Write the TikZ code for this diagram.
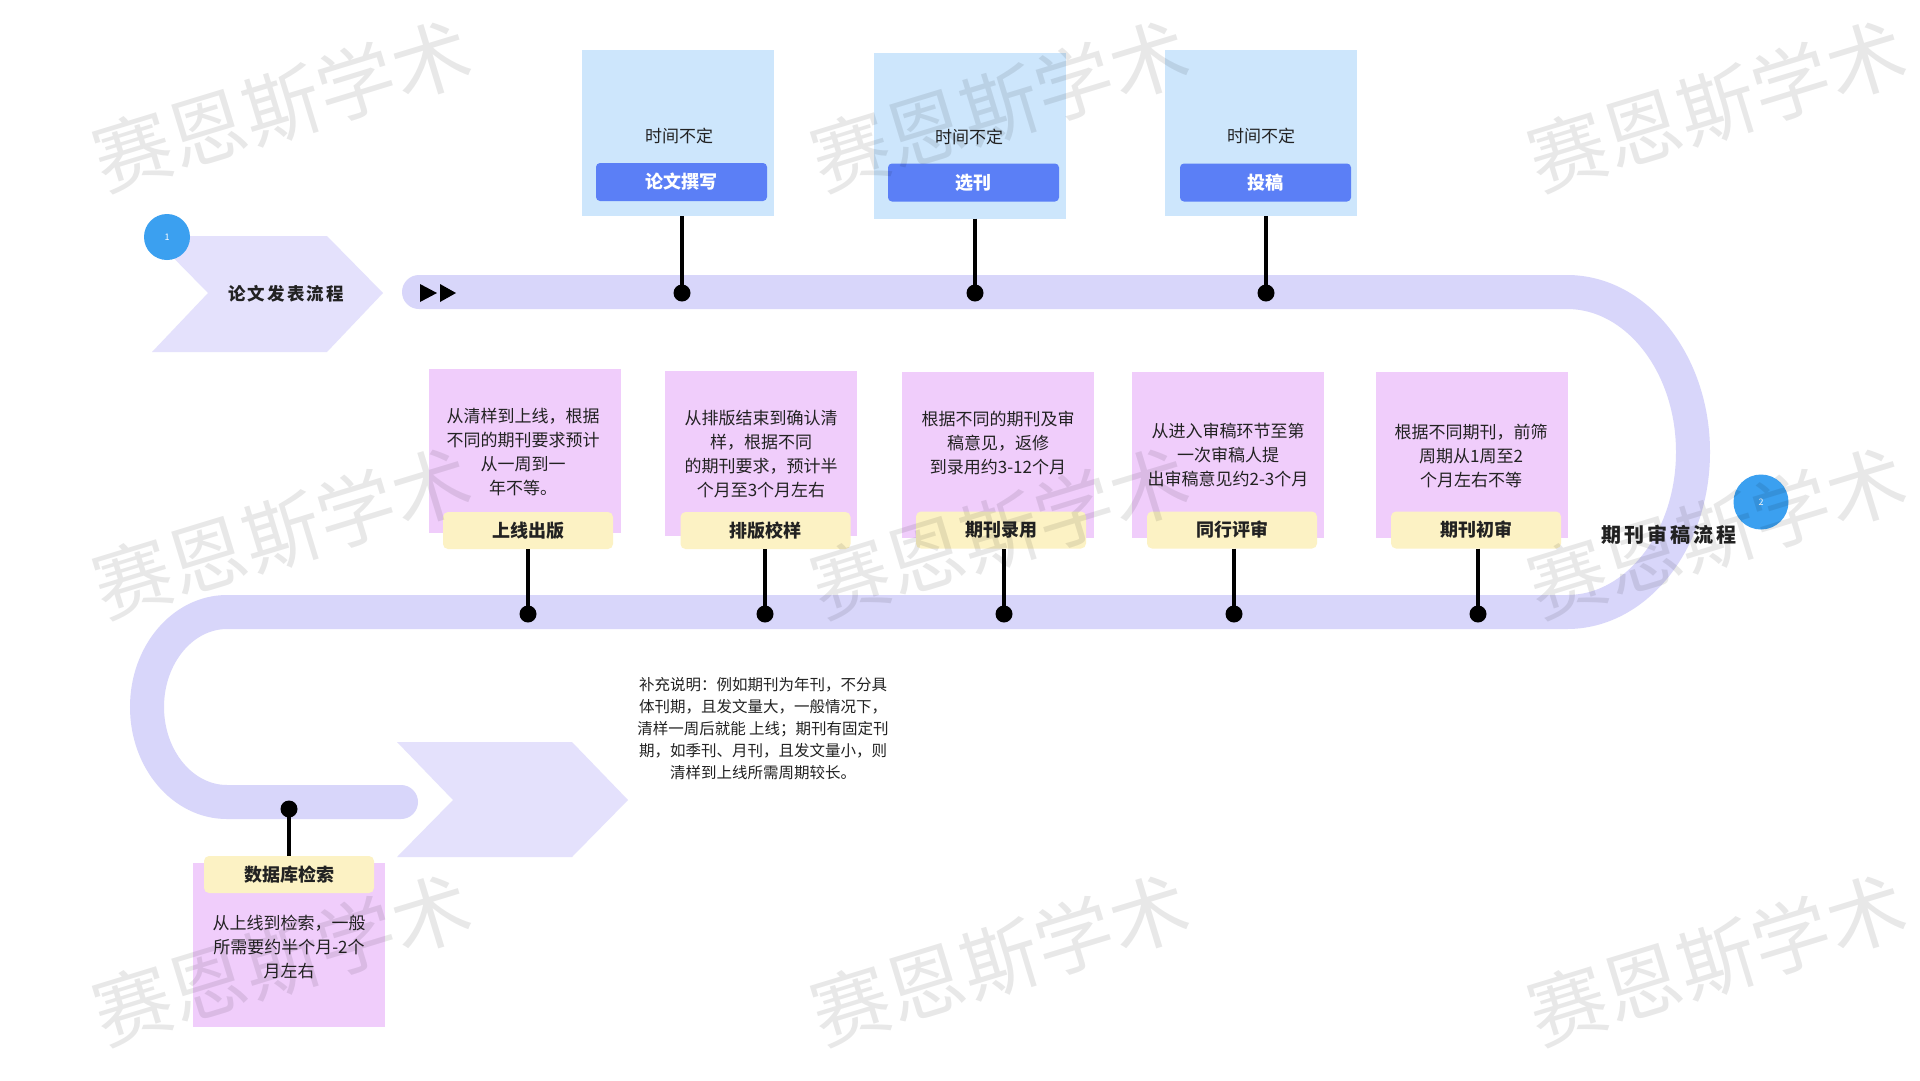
\documentclass[tikz,border=0pt]{standalone}
\usepackage{fontspec}
\newfontfamily\cjk{Noto Sans CJK SC}
\newfontfamily\cjkwide{Noto Sans CJK SC}[LetterSpace=12]
\newfontfamily\cjkwider{Noto Sans CJK SC}[LetterSpace=15]
\definecolor{trackc}{HTML}{D8D6FA}
\definecolor{chevc}{HTML}{E4E1FC}
\definecolor{bluec}{HTML}{3BA0F0}
\definecolor{lblue}{HTML}{CDE6FC}
\definecolor{btnc}{HTML}{5B7FF6}
\definecolor{pinkc}{HTML}{F0CDFB}
\definecolor{yellc}{HTML}{FCF2C4}
\definecolor{txtc}{HTML}{222222}
\begin{document}
\begin{tikzpicture}[x=1pt,y=-1pt,
  track/.style={line width=34pt, draw=trackc, line cap=round},
  chev/.style={fill=chevc},
  numdot/.style={circle, fill=bluec, inner sep=0pt, text=white, font=\cjk\fontsize{9}{9}\selectfont},
  topbox/.style={rectangle, fill=lblue, minimum width=192pt, minimum height=166pt, inner sep=0pt},
  btn/.style={rectangle, rounded corners=4pt, fill=btnc, text=white, minimum width=171pt, minimum height=38pt, inner sep=0pt, font=\cjk\bfseries\fontsize{18}{18}\selectfont},
  timetxt/.style={text=txtc, inner sep=0pt, font=\cjk\fontsize{17}{17}\selectfont},
  pinkbox/.style={rectangle, fill=pinkc, minimum width=192pt, minimum height=165pt, inner sep=0pt},
  lbl/.style={rectangle, fill=yellc, rounded corners=5pt, minimum width=170pt, minimum height=37pt, inner sep=0pt, text=txtc, font=\cjk\bfseries\fontsize{18}{18}\selectfont},
  desc/.style={align=center, text=txtc, inner sep=0pt, font=\cjk\fontsize{17}{24}\selectfont},
  pin/.style={circle, fill=black, minimum size=17pt, inner sep=0pt},
  stem/.style={line width=4.5pt, draw=black},
  wm/.style={text=black, text opacity=0.09, rotate=17, inner sep=0pt, font=\cjk\fontsize{78}{78}\selectfont}
]
\useasboundingbox (0,0) rectangle (1920,1080);
\fill[white] (0,0) rectangle (1920,1080);

% track
\draw[track] (419,292) -- (1567,292)
  arc[start angle=-90, end angle=90, x radius=126, y radius=160]
  -- (227,612)
  arc[start angle=-90, end angle=-270, x radius=80, y radius=95]
  -- (401,802);

% chevrons
\fill[chev] (152,236) -- (327,236) -- (383,293) -- (327,352) -- (152,352) -- (208,293) -- cycle;
\fill[chev] (397,742) -- (572,742) -- (628,800) -- (572,857) -- (397,857) -- (453,800) -- cycle;

% start arrows
\fill[black] (420,284) -- (437,293) -- (420,302) -- cycle;
\fill[black] (440,284) -- (456,293) -- (440,302) -- cycle;

% titles and number circles
\node[numdot, minimum size=46pt] (n1) at (167,237) {1};
\node[text=txtc, inner sep=0pt, font=\cjkwide\bfseries\fontsize{17.5}{17.5}\selectfont] (t1) at (286,294) {论文发表流程};
\node[numdot, minimum size=55pt] (n2) at (1761,502) {2};
\node[text=txtc, inner sep=0pt, font=\cjkwider\bfseries\fontsize{20}{20}\selectfont] (t2) at (1669,535) {期刊审稿流程};

% top boxes
\node[topbox] (tb1) at (678,133) {};
\node[topbox] (tb2) at (970,135.5) {};
\node[topbox] (tb3) at (1261,133) {};
\node[timetxt] (tt1) at (679,136) {时间不定};
\node[timetxt] (tt2) at (969,137) {时间不定};
\node[timetxt] (tt3) at (1261,136) {时间不定};
\node[btn] (bt1) at (681.5,182) {论文撰写};
\node[btn] (bt2) at (973.5,182.5) {选刊};
\node[btn] (bt3) at (1265.5,182.5) {投稿};
\node[pin] (p1) at (682,293) {};
\node[pin] (p2) at (975,293) {};
\node[pin] (p3) at (1266,293) {};
\draw[stem] (p1 |- tb1.south) -- (p1.center);
\draw[stem] (p2 |- tb2.south) -- (p2.center);
\draw[stem] (p3 |- tb3.south) -- (p3.center);

% middle pink boxes
\node[pinkbox, minimum height=164pt] (pa) at (524.5,451) {};
\node[pinkbox] (pb) at (761,453.5) {};
\node[pinkbox, minimum height=166pt] (pc) at (998,455) {};
\node[pinkbox, minimum height=166pt] (pd) at (1227.5,455) {};
\node[pinkbox, minimum height=166pt] (pe) at (1471.5,455) {};
\node[desc] (da) at (523,452) {从清样到上线，根据\\不同的期刊要求预计\\从一周到一\\年不等。};
\node[desc] (db) at (761,454.5) {从排版结束到确认清\\样，根据不同\\的期刊要求，预计半\\个月至3个月左右};
\node[desc] (dc) at (998,443.5) {根据不同的期刊及审\\稿意见，返修\\到录用约3-12个月};
\node[desc] (dd) at (1228,455) {从进入审稿环节至第\\一次审稿人提\\出审稿意见约2-3个月};
\node[desc] (de) at (1471,456) {根据不同期刊，前筛\\周期从1周至2\\个月左右不等};
\node[lbl] (la) at (528,530.5) {上线出版};
\node[lbl] (lb) at (765.5,530.5) {排版校样};
\node[lbl] (lc) at (1001,530) {期刊录用};
\node[lbl] (ld) at (1232,530) {同行评审};
\node[lbl] (le) at (1476,530) {期刊初审};
\node[pin] (qa) at (528,614) {};
\node[pin] (qb) at (765,614) {};
\node[pin] (qc) at (1004,614) {};
\node[pin] (qd) at (1234,614) {};
\node[pin] (qe) at (1478,614) {};
\draw[stem] (qa |- la.south) -- (qa.center);
\draw[stem] (qb |- lb.south) -- (qb.center);
\draw[stem] (qc |- lc.south) -- (qc.center);
\draw[stem] (qd |- ld.south) -- (qd.center);
\draw[stem] (qe |- le.south) -- (qe.center);

% note
\node[align=center, text=txtc, inner sep=0pt, font=\cjk\fontsize{15.5}{22}\selectfont] (note) at (763,729)
  {补充说明：例如期刊为年刊，不分具\\体刊期，且发文量大，一般情况下，\\清样一周后就能 上线；期刊有固定刊\\期，如季刊、月刊，且发文量小，则\\清样到上线所需周期较长。};

% bottom box
\node[pinkbox, minimum height=164pt] (pf) at (289,945) {};
\node[desc] (df) at (289,947) {从上线到检索，一般\\所需要约半个月-2个\\月左右};
\node[lbl] (lf) at (289,874.5) {数据库检索};
\node[pin] (qf) at (289,809) {};
\draw[stem] (qf.center) -- (qf |- lf.north);

% watermarks
\foreach \wx/\wy [count=\i] in {282/106,1000/106,1717/106,282/533,1000/533,1717/533,282/960,1000/960,1717/960}
  \node[wm] (wm\i) at (\wx,\wy) {赛恩斯学术};
\end{tikzpicture}
\end{document}
